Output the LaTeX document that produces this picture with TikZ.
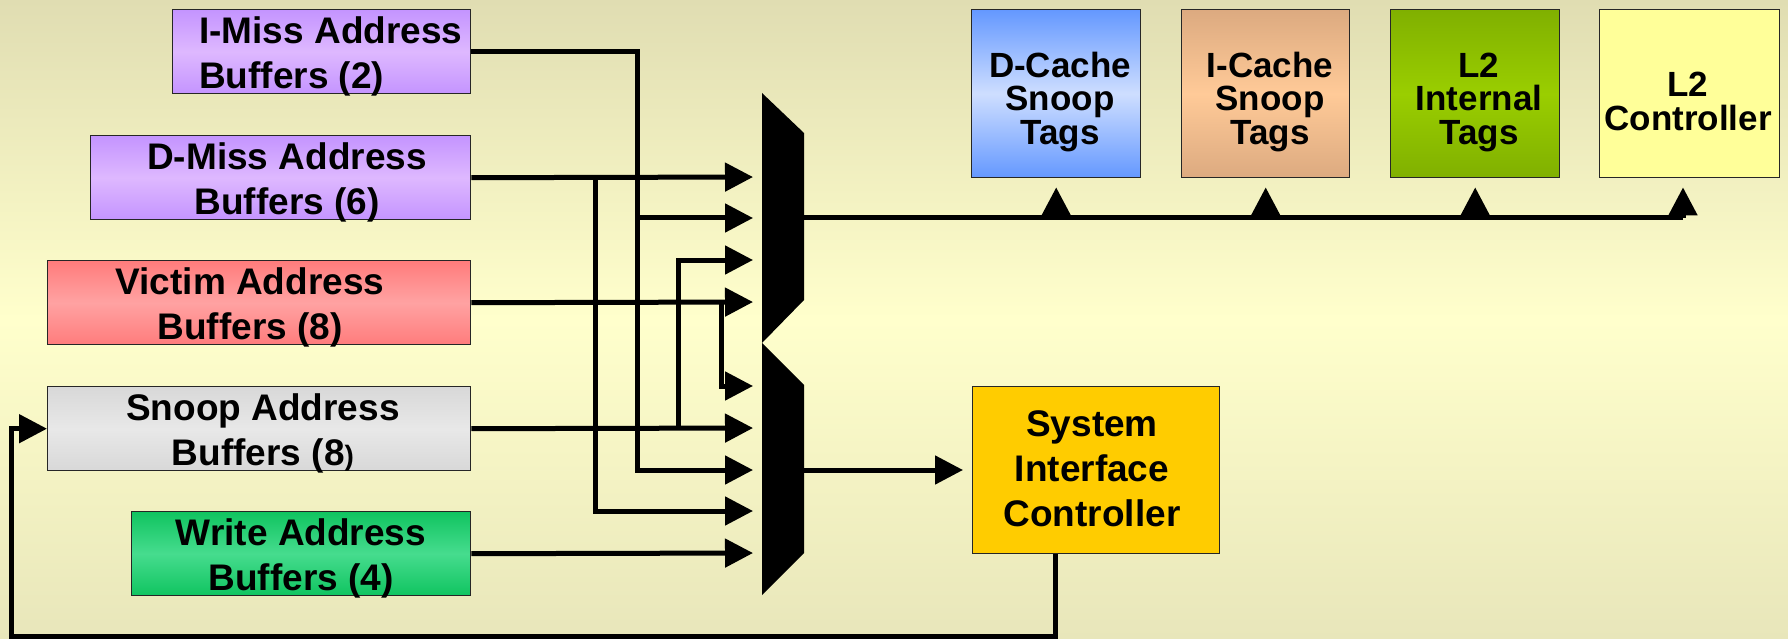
\documentclass[tikz,border=0pt]{standalone}
\usepackage{fontspec}
\setmainfont{Liberation Sans}
\usetikzlibrary{arrows.meta}
\definecolor{bgtop}{RGB}{224,221,178}
\definecolor{bgmid}{RGB}{255,255,204}
\definecolor{bgbot}{RGB}{232,230,186}
\definecolor{purA}{RGB}{196,148,255}
\definecolor{purB}{RGB}{222,184,255}
\definecolor{redA}{RGB}{255,124,124}
\definecolor{redB}{RGB}{255,162,162}
\definecolor{gryA}{RGB}{216,216,216}
\definecolor{gryB}{RGB}{232,232,232}
\definecolor{grnA}{RGB}{16,196,96}
\definecolor{grnB}{RGB}{70,220,142}
\definecolor{bluA}{RGB}{100,152,255}
\definecolor{bluB}{RGB}{206,222,255}
\definecolor{tanA}{RGB}{220,170,128}
\definecolor{tanB}{RGB}{255,202,152}
\definecolor{limA}{RGB}{128,176,0}
\definecolor{limB}{RGB}{154,206,0}
\definecolor{ylw}{RGB}{255,255,153}
\definecolor{gold}{RGB}{255,204,0}
\begin{document}
\begin{tikzpicture}[x=1pt,y=-1pt,
  box/.style={draw=black!85, line width=1.4pt, anchor=north west, inner sep=0pt},
  grad/.style n args={2}{top color=#1, bottom color=#1, middle color=#2},
  lbl/.style={font=\fontsize{37}{45}\selectfont\bfseries, align=center, inner sep=0pt, anchor=north},
  tlbl/.style={font=\fontsize{35}{33.5}\selectfont\bfseries, align=center, inner sep=0pt, anchor=north},
  wire/.style={line width=5pt},
  arr/.style={wire, -{Triangle[length=28pt,width=28pt]}, shorten >=9pt}]
\useasboundingbox (0,0) rectangle (1788,639);
\shade[top color=bgtop, bottom color=bgbot, middle color=bgmid] (0,0) rectangle (1788,639);

% left buffer boxes
\node[box, minimum width=298pt, minimum height=84pt, grad={purA}{purB}] (imiss) at (172,9) {};
\node[lbl, align=left, anchor=north west] (imissT) at (199,13) {\rule{0pt}{30pt}I-Miss Address\\Buffers (2)};
\node[box, minimum width=380pt, minimum height=84pt, grad={purA}{purB}] (dmiss) at (90,135) {};
\node[lbl] (dmissT) at (287,139) {\rule{0pt}{30pt}D-Miss Address\\Buffers (6)};
\node[box, minimum width=423pt, minimum height=84pt, grad={redA}{redB}] (victim) at (47,260) {};
\node[lbl] (victimT) at (250,264) {\rule{0pt}{30pt}Victim Address\\Buffers (8)};
\node[box, minimum width=423pt, minimum height=84pt, grad={gryA}{gryB}] (snoop) at (47,386) {};
\node[lbl] (snoopT) at (263,390) {\rule{0pt}{30pt}Snoop Address\\Buffers (8{\fontsize{28}{45}\selectfont )}};
\node[box, minimum width=339pt, minimum height=84pt, grad={grnA}{grnB}] (write) at (131,511) {};
\node[lbl] (writeT) at (301,515) {\rule{0pt}{30pt}Write Address\\Buffers (4)};

% top boxes
\node[box, minimum width=169pt, minimum height=168pt, grad={bluA}{bluB}] (dcache) at (971,9) {};
\node[tlbl] (dcacheT) at (1060,50) {\rule{0pt}{27pt}D-Cache\\Snoop\\Tags};
\node[box, minimum width=168pt, minimum height=168pt, grad={tanA}{tanB}] (icache) at (1181,9) {};
\node[tlbl] (icacheT) at (1270,50) {\rule{0pt}{27pt}I-Cache\\Snoop\\Tags};
\node[box, minimum width=169pt, minimum height=168pt, grad={limA}{limB}] (l2i) at (1390,9) {};
\node[tlbl] (l2iT) at (1479,50) {\rule{0pt}{27pt}L2\\Internal\\Tags};
\node[box, minimum width=180pt, minimum height=168pt, fill=ylw] (l2c) at (1599,9) {};
\node[tlbl] (l2cT) at (1688,69.5) {\rule{0pt}{27pt}L2\\Controller};

% system interface controller
\node[box, minimum width=247pt, minimum height=167pt, fill=gold] (sic) at (972,386) {};
\node[lbl] (sicT) at (1092,406) {\rule{0pt}{30pt}System\\Interface\\Controller};

% multiplexer
\fill[black] (762,93) -- (804,133) -- (804,300) -- (762,343) -- cycle;
\fill[black] (762,343) -- (804,385) -- (804,553) -- (762,595) -- cycle;
\coordinate (m1) at (762,177);
\coordinate (m2) at (762,218);
\coordinate (m3) at (762,260);
\coordinate (m4) at (762,302);
\coordinate (m5) at (762,386);
\coordinate (m6) at (762,428);
\coordinate (m7) at (762,470);
\coordinate (m8) at (762,511);
\coordinate (m9) at (762,553);
\coordinate (o1) at (804,218);
\coordinate (o2) at (804,470);
\coordinate (cD) at (595,0);
\coordinate (cI) at (637,0);
\coordinate (cS) at (678,0);
\coordinate (cV) at (721,0);
\coordinate (busend) at (1683,218);
\coordinate (fbs) at ([xshift=-40.5pt]sic.south);
\coordinate (fbc) at (11,636);

% inputs to the multiplexer
\draw[arr] (imiss.east) -| (cI|-m7) -- (m7);
\draw[arr] (cI|-m2) -- (m2);
\draw[arr] (dmiss.east) -- (m1);
\draw[arr] (cD|-m1) |- (m8);
\draw[arr] (victim.east) -- (m4);
\draw[arr] (cV|-m4) |- (m5);
\draw[arr] (snoop.east) -- (m6);
\draw[arr] (cS|-m6) |- (m3);
\draw[arr] (write.east) -- (m9);

% outputs
\draw[wire] (o1) -- (busend);
\draw[arr] (dcache.south|-o1) -- (dcache.south);
\draw[arr] (icache.south|-o1) -- (icache.south);
\draw[arr] (l2i.south|-o1) -- (l2i.south);
\draw[arr] (busend) -- (busend|-l2c.south);
\draw[arr] (o2) -- (o2-|sic.west);
\draw[arr, shorten >=0pt] (fbs) |- (fbc) |- (snoop.west);
\end{tikzpicture}
\end{document}
